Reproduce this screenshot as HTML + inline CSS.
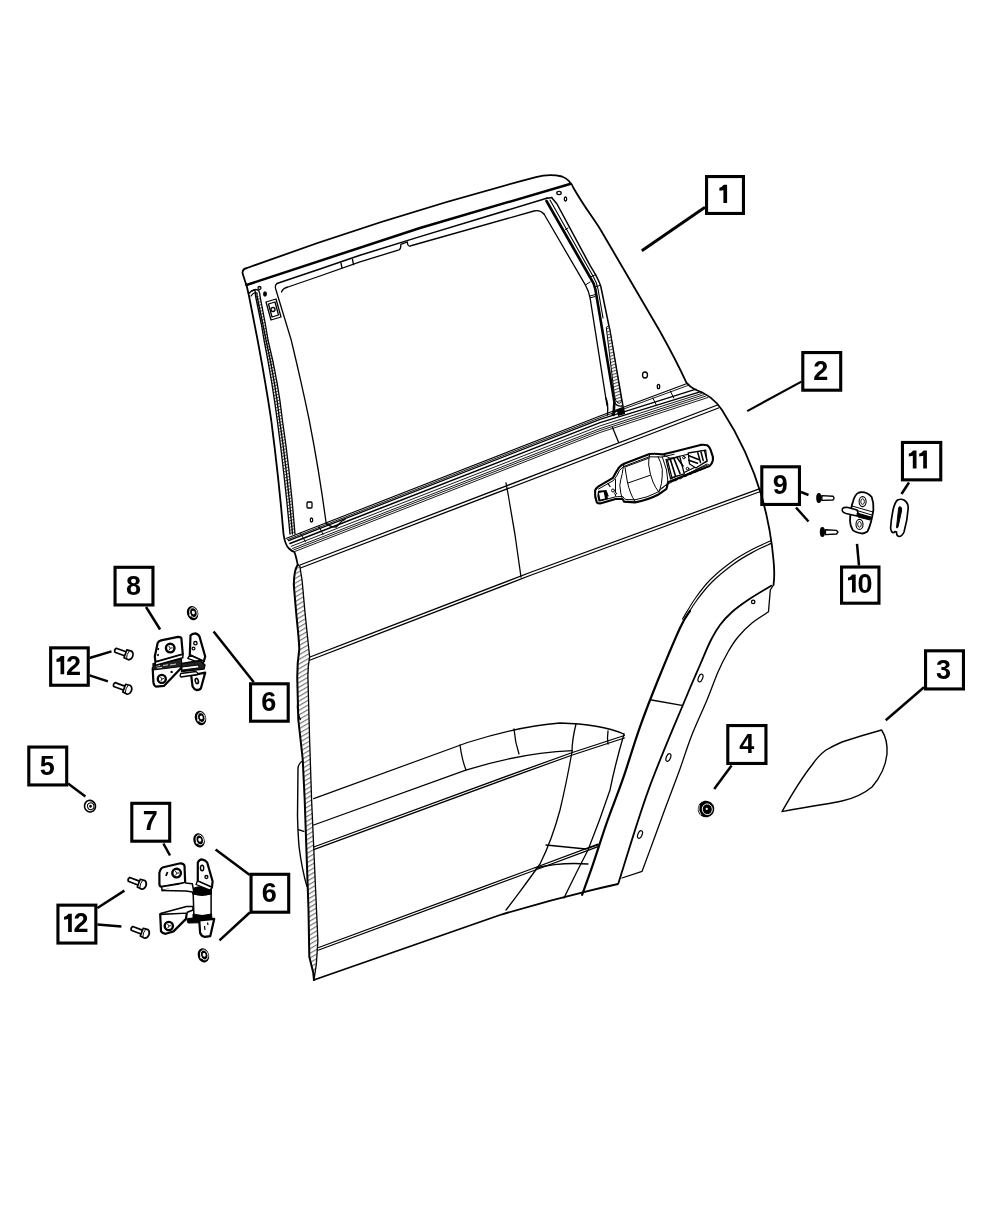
<!DOCTYPE html>
<html><head><meta charset="utf-8"><style>
html,body{margin:0;padding:0;background:#fff;}
body{width:1000px;height:1214px;overflow:hidden;}
svg{display:block;}
.lb{font-family:"Liberation Sans",sans-serif;font-weight:bold;font-size:27px;fill:#000;}
svg{will-change:transform;}
</style></head><body>
<svg width="1000" height="1214" viewBox="0 0 1000 1214">
<g fill="#fff" stroke="#000" stroke-width="3.1">
<rect x="706.55" y="176.55" width="36.90" height="36.90"/>
<rect x="802.80" y="352.55" width="37.90" height="37.65"/>
<rect x="925.55" y="650.80" width="37.90" height="38.15"/>
<rect x="727.80" y="725.55" width="38.15" height="37.90"/>
<rect x="28.80" y="747.05" width="37.90" height="37.90"/>
<rect x="250.55" y="683.80" width="37.65" height="37.40"/>
<rect x="251.05" y="874.30" width="37.65" height="37.90"/>
<rect x="131.80" y="803.30" width="37.90" height="37.90"/>
<rect x="115.05" y="567.30" width="37.90" height="37.65"/>
<rect x="761.80" y="466.80" width="37.65" height="37.65"/>
<rect x="841.55" y="567.05" width="37.40" height="36.15"/>
<rect x="902.45" y="442.45" width="38.30" height="37.40"/>
<rect x="50.65" y="647.85" width="37.60" height="37.40"/>
<rect x="57.95" y="905.15" width="37.90" height="37.90"/>
</g>
<g class="lb">
<text x="813.25" y="379.5">2</text>
<text x="936" y="678.5">3</text>
<text x="739.25" y="753">4</text>
<text x="39.75" y="774.75">5</text>
<text x="261.25" y="711">6</text>
<text x="261.75" y="901.75">6</text>
<text x="142.75" y="830.25">7</text>
<text x="126" y="594.5">8</text>
<text x="772.75" y="494">9</text>
<text x="857.6" y="593">0</text>
<text x="65.9" y="674.5">2</text>
<text x="73.4" y="931.9">2</text>
</g>
<path fill="#000" d="M723.8,184.8 L727.1,184.8 L727.1,203.0 L723.4,203.0 L723.4,190.2 L719.4,190.8 L719.4,187.8 Q721.9,187.4 723.8,184.8 Z M852.4,574.4 L855.7,574.4 L855.7,592.6 L852.0,592.6 L852.0,579.8 L848.0,580.4 L848.0,577.4 Q850.5,577.0 852.4,574.4 Z M913.2,450.4 L916.5,450.4 L916.5,468.6 L912.8,468.6 L912.8,455.8 L908.8,456.4 L908.8,453.4 Q911.3,453.0 913.2,450.4 Z M923.6,450.4 L926.9,450.4 L926.9,468.6 L923.2,468.6 L923.2,455.8 L919.2,456.4 L919.2,453.4 Q921.7,453.0 923.6,450.4 Z M60.9,656.0 L64.2,656.0 L64.2,674.2 L60.5,674.2 L60.5,661.4 L56.5,662.0 L56.5,659.0 Q59.0,658.6 60.9,656.0 Z M68.5,913.7 L71.8,913.7 L71.8,931.9 L68.1,931.9 L68.1,919.1 L64.1,919.7 L64.1,916.7 Q66.6,916.3 68.5,913.7 Z"/>
<g fill="none" stroke="#000" stroke-width="2.5" stroke-linecap="butt">
<path d="M705,207.3 L641.8,250.8" stroke-width="2.9"/>
<path d="M801.5,381.6 L747.2,411.1" stroke-width="2.1"/>
<path d="M924,687.3 L885.75,720.25"/>
<path d="M731.6,765.5 L714.2,789.1"/>
<path d="M68,783.5 L85.4,796.4"/>
<path d="M253.8,682.2 L213.6,631.5"/>
<path d="M215.6,849.5 L249.8,875"/>
<path d="M249.8,912.5 L219.5,940.4"/>
<path d="M163.4,843.5 L170,855.5"/>
<path d="M146,607 L160.1,629.5"/>
<path d="M89.6,658 L111.5,651.4"/>
<path d="M89.6,675.4 L107.9,681.4"/>
<path d="M97.4,908 L124.4,890.6"/>
<path d="M97.4,924.5 L121.4,926.6"/>
<path d="M801,492 L808.5,495"/>
<path d="M796,507.5 L808.5,521.5"/>
<path d="M857,543.8 L859,565.5"/>
<path d="M909,482.5 L901.5,494"/>
</g>
<!-- DOOR -->
<g id="door" fill="none" stroke="#000" stroke-width="1.3" stroke-linejoin="round" stroke-linecap="round">
<!-- top outer edge + rear frame edge + rear door edge -->
<path stroke-width="1.8" d="M246.5,285.5 L242.6,273.5 Q242,269 247,268 C345,232 445,201 536,177.2 Q549,173.5 562,176.5 Q570,179.5 573.5,188 C585,208 594,219 600.7,230 L659.2,330 Q676,360 686.4,382.6 Q690,387 695,389.5 Q712,395 722,410 Q748,450 762,497 Q771,530 773.5,560 Q775,575 773.5,585"/>
<!-- roof strip thick line -->
<path stroke-width="2.4" d="M246.5,285 L420,228 L570,184"/>
<!-- frame face top edge (opening top) -->
<path stroke-width="1.5" d="M276.9,283.5 L320,269 L360,255.2 L420,236.6 L547.5,198"/>
<!-- frame outer left edge -->
<path stroke-width="1.8" d="M246.5,285 L249,296 L257.6,340 Q266,385 271.2,420 Q279,480 283.5,534 Q285,545 289,548.5 Q291.5,551 294.4,552 Q296,556 297.7,564.7"/>
<!-- seal lines -->
<path fill="url(#hatch2)" stroke="none" d="M255.5,296 L261.5,325 L264,340 Q272,380 277.2,420 Q284,470 290,534 L295,534 Q290,470 282.4,420 Q278,380 268,340 L265.5,325 L260,296 Z"/>
<path d="M249.5,293 Q252,289.5 255,290.5 Q255.5,293 255.5,296 L261.5,325 L264,340 Q272,380 277.2,420 Q284,470 290,534"/>
<path d="M251,296 Q254,291.5 257,293 L257,296 L263,325 L266,340 Q275,380 279.6,420 Q287,470 292.5,534"/>
<path d="M252,291 Q256,288 259,291 Q260,294 260,296 L265.5,325 L268,340 Q278,380 282.4,420 Q290,470 295,534"/>
<!-- window opening left edge -->
<path d="M276.5,284 Q274.5,285.5 276,290 L291.2,340 Q302,385 309.2,420 Q319,470 326,522"/>
<!-- glass top inner edge with notches -->
<path d="M281.5,292 Q283,288 288,287 L320,276 L360,261.8 L399,249.8 Q401,249 400.8,244.4 L407.4,242 Q407.5,246.5 410,246 L534,211 Q540,209.5 544,214"/>
<path d="M341,263 L342,268 M352.5,259.5 L353.5,264.5"/>
<!-- channel top edge -->

<!-- rear window channel -->
<path d="M544,214 L585.3,284.8 Q589,291 590.2,298.7 L607,405.5"/>
<path stroke-width="2.6" d="M546.5,201 L590.5,278 Q594,283 595.3,289 L600.6,320 L614.4,402 L613.5,415"/>
<path stroke-width="1.1" d="M550,200 L593.5,277 Q597,283 598,289 L603,318"/>
<path stroke-width="1" d="M565.5,229.5 L568,228 M585.4,285 L590,282 M590.4,297.8 L595,296.5 M596,286.5 L600,285.5"/>
<path stroke-width="1.5" d="M552,198 L557,204 L590,265.4 Q598,278 600.7,286 L609.8,330 L623,406.4 L623.9,413.3"/>
<path d="M590.5,277 L596,274.5 M590,296 L595.5,294.5" stroke-width="1"/>
<path fill="url(#hatch2)" stroke-width="1" d="M606.5,327 Q608,325 609.5,328 L621.5,400 Q621,404 618,403 Q615,401 614.5,396 Z"/>
<path stroke-width="1.4" d="M605.7,397.8 Q608.5,402 607.5,415 M614.4,402 Q617,407 622,406 M612,415 Q616,409 623,410"/>
<path fill="#000" stroke="none" d="M617,410 L624,407 L625,414 L618,416 Z"/>
<path d="M546,198.5 L552,197.5"/>
<!-- small holes near top rear -->
<ellipse cx="559" cy="193" rx="2.2" ry="1.6"/>
<ellipse cx="565.5" cy="199" rx="1.2" ry="2"/>
<ellipse cx="645" cy="375" rx="2.5" ry="3"/>
<ellipse cx="658.5" cy="386.5" rx="1.2" ry="2.2"/>
<!-- B-pillar small features left -->
<ellipse cx="259.5" cy="288" rx="1.5" ry="1.5"/>
<ellipse cx="265" cy="294" rx="1.3" ry="2" fill="#000"/>
<path d="M266,302 L276,299 L281,317 L271,320 Z"/>
<path d="M268.5,304 L275,302 L278.5,315 L272,317 Z"/>
<circle cx="273" cy="309.5" r="2"/>
<rect x="307" y="502" width="5" height="6" rx="1"/>
<ellipse cx="311.5" cy="520" rx="1.2" ry="2"/>
<!-- belt / sill lines -->
<path stroke-width="1.1" d="M286.0,538.5 L600,416.0 L686.4,383.8"/>
<path stroke-width="0.9" d="M287.3,539.7 L600,417.7 L687.6,385.6"/>
<path stroke-width="1.3" d="M288.6,540.7 L600,419.3 L696,389.2"/>
<path stroke-width="1.5" d="M289.9,543.5 L600,422.6 L700.8,391.6"/>
<path stroke-width="0.9" d="M291.2,546.3 L600,425.9 L702,393.4"/>
<path stroke-width="0.9" d="M292.5,548.5 L600,428.6 L704.4,394.5"/>
<path stroke-width="0.9" d="M293.8,549.9 L600,430.5 L706,396"/>
<path stroke-width="0.9" d="M295.1,551.4 L600,432.5 L708,397.5"/>
<path d="M326,523 Q330,527 336,527.2 L339,524 Q341,521 345,519.5" stroke-width="1.3"/>
<path d="M300.6,533.6 L305.4,541.6 M319,526.4 L323,534.4 M652.8,398 L656.3,405 M670.3,391 L673.8,398" stroke-width="1"/>

<!-- upper crease (shoulder) -->
<path d="M300,565 L717.5,405"/>
<path d="M300.5,568 L718.5,408"/>
<!-- panel split upper -->
<path d="M612.5,427.5 L618.7,442.5"/>
<path d="M506,483 Q515,530 521,577"/>
<!-- middle crease -->
<path d="M308.7,657.5 L530,572.5 L760,488.7"/>
<path d="M309,660.5 L530,575.5 L760.5,491.5"/>
<!-- front edge band -->
<defs><pattern id="hatch2" width="3" height="3" patternUnits="userSpaceOnUse" patternTransform="rotate(-20)"><rect width="3" height="3" fill="#fff" stroke="none"/><rect width="3" height="1.1" fill="#555" stroke="none"/></pattern><pattern id="hatch" width="4" height="4" patternUnits="userSpaceOnUse" patternTransform="rotate(-30)"><rect width="4" height="4" fill="#fff" stroke="none"/><rect width="4" height="1.2" fill="#777" stroke="none"/></pattern></defs>
<path fill="url(#hatch)" stroke="none" d="M297.7,564.7 Q294,570 293.8,584.7 Q295,600 296.8,619.3 Q299,640 299.3,649 L297.3,680 L298.3,719.5 L302.7,759 L304.7,800 L308.5,909.7 L309.3,956.7 L313.2,972.4 L314,980 L316.3,964.6 L317.9,941 L311.6,800 L309.6,739.3 L308,680 L309.6,656.8 L304.7,609.4 L302.2,581.2 L299.8,566 Z"/>
<path stroke-width="2" d="M297.7,564.7 Q294,570 293.8,584.7 Q295,600 296.8,619.3 Q299,640 299.3,649 Q297,665 297.3,680 L298.3,719.5 L302.7,759 L304.7,800 L308.5,909.7 L309.3,956.7 L313.2,972.4 L314,980"/>
<path stroke-width="1.3" d="M297.7,564.7 L299.8,566 L302.2,581.2 L304.7,609.4 L309.6,656.8 Q307.5,668 308,680 L309.6,739.3 L311.6,800 L317.9,941 L316.3,964.6 L314,980"/>

<!-- hinge bracket on edge -->
<path stroke-width="1.4" d="M302.7,761 Q298.8,763 298,768 L297.5,815.7 Q298,835 299.1,847 Q302,870 306.9,886.2 M299.1,829.8 L303.8,831.3 M297.8,701.7 Q296.5,712 300.3,719.5"/>
<!-- bottom edge -->
<path stroke-width="1.8" d="M313.7,980 L500,915 Q560,897 618,884"/>
<!-- rocker line -->
<path d="M318.7,950 L530,872 L586,851.2 L598,846.7"/>
<path d="M318.7,947.5 L530,869.5 L586,848.7 L598,844.2"/>
<!-- lower-mid crease -->
<path d="M313.7,849.6 L525.6,771.8 L572.4,755 L624.4,738"/>
<path d="M313.7,847 L525.6,769.3 L572.4,752.5 L624.4,735.5"/>
<!-- swoosh lines -->
<path d="M313.7,798.7 L467.5,742.5 Q520,726 560,723 Q600,724 624,734"/>
<path d="M313.7,825 L465.8,770.2 Q520,753 572.4,750.7"/>
<path d="M460,745 Q462,760 466,770"/>
<path d="M514,729 Q515,742 519,754"/>
<path d="M576,724 Q572,740 572,752 Q566,785 560,810 Q552,840 540,864 Q520,892 506,910"/>
<path d="M624,734 Q615,765 610,790 Q600,820 588,850 Q575,875 564,898"/>
<path d="M608,731 Q607,738 608,744"/>

<path d="M546,845 L586,849 L598,845"/>
<path d="M536,868 Q560,862 588,864"/>
<!-- wheel arch -->
<path stroke-width="2.2" d="M582.1,894.8 C583.9,889.8 588.6,876.9 592.8,864.8 C596.9,852.7 602.0,836.3 607.0,822.0 C612.0,807.7 617.3,795.1 622.8,779.2 C628.3,763.3 634.1,743.3 640.0,726.8 C645.9,710.3 651.3,696.5 658.0,680.0 C664.7,663.5 674.7,639.5 680.0,628.0 C685.3,616.5 688.3,613.8 690.0,611.0"/>
<path stroke-width="1.2" d="M684.0,620.0 C686.2,616.7 692.3,606.3 697.0,600.0 C701.7,593.7 705.7,588.2 712.0,582.0 C718.3,575.8 727.8,568.2 735.0,563.0 C742.2,557.8 749.0,554.3 755.0,551.0 C761.0,547.7 768.5,544.7 771.2,543.4"/>
<path stroke-width="1.1" d="M682.5,619.0 C684.7,615.5 690.8,604.6 695.5,598.0 C700.2,591.4 704.2,585.8 710.5,579.5 C716.8,573.2 726.2,565.7 733.5,560.5 C740.8,555.3 747.8,551.8 754.0,548.5 C760.2,545.2 768.2,542.1 771.0,540.8"/>
<!-- inner flange -->
<path stroke-width="1.8" d="M618.5,883.0 C623.5,867.5 637.4,820.4 648.5,789.9 C659.6,759.4 676.4,720.8 685.0,700.0 C693.6,679.2 695.8,674.7 700.0,665.0 C704.2,655.3 706.7,648.7 710.0,642.0 C713.3,635.3 716.3,630.0 720.0,625.0 C723.7,620.0 727.3,616.2 732.0,612.0 C736.7,607.8 741.5,604.4 748.0,600.0 C754.5,595.6 767.3,588.1 771.2,585.7"/>
<path d="M622,878 L642.1,871.3 C644.1,865.9 650.1,849.7 654.0,839.0 C657.9,828.3 661.4,818.5 665.7,807.0 C670.0,795.5 675.3,781.8 679.6,770.0 C683.9,758.2 686.7,748.1 691.3,736.4 C695.9,724.7 702.5,710.7 707.0,700.0 C711.5,689.3 714.5,680.0 718.0,672.0 C721.5,664.0 724.7,657.8 728.0,652.0 C731.3,646.2 734.0,641.8 738.0,637.0 C742.0,632.2 747.3,626.9 752.0,623.0 C756.7,619.1 763.2,615.4 766.0,613.5 C768.8,611.6 768.1,612.1 768.5,611.8 L770.3,590 L773.5,585"/>
<path d="M651.5,700 L682,705.4"/>
<ellipse cx="668.4" cy="757.5" rx="2.1" ry="4" transform="rotate(22 668.4 757.5)" stroke-width="1.2"/>
<ellipse cx="640" cy="834.5" rx="2.1" ry="4" transform="rotate(22 640 834.5)" stroke-width="1.2"/>
<ellipse cx="700.5" cy="678" rx="2.1" ry="4" transform="rotate(22 700.5 678)" stroke-width="1.2"/>
<circle cx="753.2" cy="601.9" r="1.7"/>
</g>
<!-- PARTS -->
<g id="parts" fill="#fff" stroke="#000" stroke-width="1.8" stroke-linejoin="round">
<!-- patch 3 -->
<path fill="none" stroke-width="1.4" d="M782,811.6 Q800,780 812,765 Q818,756 826,750 Q835,745 842,742 Q860,736 881.6,730 Q888,740 887,754 Q885,772 872,787 Q860,797 842,801 Q832,803 826,804 Q800,808 782,811.6 Z"/>
<!-- nut 4 -->
<g transform="translate(706,809) rotate(-10)">
<ellipse cx="0" cy="0" rx="8.3" ry="8.3" fill="#000" stroke="none"/>
<ellipse cx="1.2" cy="0.5" rx="5" ry="5.4" fill="none" stroke="#fff" stroke-width="0.9"/>
<circle cx="0.8" cy="0" r="1.1" fill="#fff" stroke="none"/>
<path d="M-6,-5 Q-8.5,0 -6,5" fill="none" stroke="#fff" stroke-width="0.8"/>
</g>
<!-- nut 5 -->
<g transform="translate(90,806.2) rotate(-15)">
<ellipse cx="0" cy="0" rx="5.5" ry="5.8" fill="#fff" stroke="#000" stroke-width="1.6"/>
<ellipse cx="0.7" cy="0.2" rx="3.2" ry="3.4" fill="#fff" stroke="#000" stroke-width="1"/>
<circle cx="0.5" cy="0.2" r="1.4" fill="#000" stroke="none"/>
</g>
<!-- nuts 6 -->
<g transform="translate(192.6,613.1) rotate(-18)"><ellipse rx="5.6" ry="7.3" fill="#000" stroke="none"/><ellipse cx="0.9" cy="-0.2" rx="3.6" ry="5" fill="none" stroke="#fff" stroke-width="0.9"/><ellipse cx="0.9" cy="-0.3" rx="1.5" ry="1.9" fill="#fff" stroke="none"/><ellipse cx="-3" cy="1.3" rx="0.8" ry="1.3" fill="#fff" stroke="none"/></g><g transform="translate(200.5,718) rotate(-18)"><ellipse rx="5.6" ry="7.3" fill="#000" stroke="none"/><ellipse cx="0.9" cy="-0.2" rx="3.6" ry="5" fill="none" stroke="#fff" stroke-width="0.9"/><ellipse cx="0.9" cy="-0.3" rx="1.5" ry="1.9" fill="#fff" stroke="none"/><ellipse cx="-3" cy="1.3" rx="0.8" ry="1.3" fill="#fff" stroke="none"/></g><g transform="translate(199,840.4) rotate(-18)"><ellipse rx="5.6" ry="7.3" fill="#000" stroke="none"/><ellipse cx="0.9" cy="-0.2" rx="3.6" ry="5" fill="none" stroke="#fff" stroke-width="0.9"/><ellipse cx="0.9" cy="-0.3" rx="1.5" ry="1.9" fill="#fff" stroke="none"/><ellipse cx="-3" cy="1.3" rx="0.8" ry="1.3" fill="#fff" stroke="none"/></g><g transform="translate(203.4,955.4) rotate(-18)"><ellipse rx="5.6" ry="7.3" fill="#000" stroke="none"/><ellipse cx="0.9" cy="-0.2" rx="3.6" ry="5" fill="none" stroke="#fff" stroke-width="0.9"/><ellipse cx="0.9" cy="-0.3" rx="1.5" ry="1.9" fill="#fff" stroke="none"/><ellipse cx="-3" cy="1.3" rx="0.8" ry="1.3" fill="#fff" stroke="none"/></g>
<!-- bolts 12 -->
<g transform="translate(115.6,650.2) rotate(20) scale(1.1)"><path d="M0,-1.9 L10,-1.9 L10,1.9 L0,1.9 Q-1.6,0 0,-1.9 Z" stroke-width="1.5"/><path d="M9.5,-3.8 L14,-4.2 Q16.5,-3 16.5,0 Q16.5,3 14,4.2 L9.5,3.8 Z" stroke-width="1.5"/><path d="M12,-3.9 Q10.5,0 12,3.9" fill="none" stroke-width="0.8"/></g><g transform="translate(114.4,684.6) rotate(20) scale(1.1)"><path d="M0,-1.9 L10,-1.9 L10,1.9 L0,1.9 Q-1.6,0 0,-1.9 Z" stroke-width="1.5"/><path d="M9.5,-3.8 L14,-4.2 Q16.5,-3 16.5,0 Q16.5,3 14,4.2 L9.5,3.8 Z" stroke-width="1.5"/><path d="M12,-3.9 Q10.5,0 12,3.9" fill="none" stroke-width="0.8"/></g><g transform="translate(129,879.4) rotate(21) scale(1.1)"><path d="M0,-1.9 L10,-1.9 L10,1.9 L0,1.9 Q-1.6,0 0,-1.9 Z" stroke-width="1.5"/><path d="M9.5,-3.8 L14,-4.2 Q16.5,-3 16.5,0 Q16.5,3 14,4.2 L9.5,3.8 Z" stroke-width="1.5"/><path d="M12,-3.9 Q10.5,0 12,3.9" fill="none" stroke-width="0.8"/></g><g transform="translate(132,928.4) rotate(21) scale(1.1)"><path d="M0,-1.9 L10,-1.9 L10,1.9 L0,1.9 Q-1.6,0 0,-1.9 Z" stroke-width="1.5"/><path d="M9.5,-3.8 L14,-4.2 Q16.5,-3 16.5,0 Q16.5,3 14,4.2 L9.5,3.8 Z" stroke-width="1.5"/><path d="M12,-3.9 Q10.5,0 12,3.9" fill="none" stroke-width="0.8"/></g>
<!-- hinge 8 -->
<g stroke-width="2.2" stroke-linejoin="round">
<path d="M191.2,675.4 L192.6,686.6 Q194,689.5 196.8,690.1 Q200,690 201,688 L205.2,672.6 Z"/>
<ellipse cx="196.8" cy="681" rx="1.5" ry="2.6" stroke-width="1.6" transform="rotate(-15 196.8 681)"/>
<path d="M190.5,635.5 Q192,633.6 195.4,633.4 Q199,634.5 199.6,636.9 L205.2,656.5 L203.8,661.4 L189.8,655.1 Z"/>
<circle cx="195.4" cy="643.2" r="1.7" stroke-width="1.3"/><circle cx="193.5" cy="648.6" r="1.4" stroke-width="1.2"/>
<path d="M189.8,655.1 L203.8,661.4 L202.5,663.8 L187.8,658.4 Z" stroke-width="1.4"/>
<path d="M152.7,668.4 L153.4,682.4 Q154,686 156.2,686.6 L163.9,685.9 L181.4,667.7 L180.7,664.9 Z"/>
<circle cx="161.8" cy="678.9" r="4" stroke-width="2.4"/>
<path d="M160.5,677 L162,679 L160.8,681 M162,679 L164,678.5" stroke-width="0.9" fill="none"/>
<circle cx="171.6" cy="671.9" r="1.2" fill="#000" stroke="none"/>
<path d="M153,663.5 L181.5,659 L181.5,666.5 L153,670 Z" fill="#222" stroke-width="1.2"/>
<path d="M156,666 L160,665.4 M163,665.5 L168,664.8 M170,665 L176,664 M157,668 L162,667.4" stroke="#fff" stroke-width="0.8"/>
<path d="M154.8,656.5 L157.6,643.2 Q158.5,641 161.1,640.4 L177.9,636.9 Q181,637 181.4,638.3 L182.8,654.4 L155.5,662.1 Z"/>
<path d="M155.5,662.1 L182.8,654.4 L182.8,657.8 L155,665.5 Z" stroke-width="1.5"/>
<circle cx="170.2" cy="648.1" r="4.3" stroke-width="2.4"/>
<path d="M168.8,646 L170.3,648.2 L169,650.4 M170.3,648.2 L172.6,647.8" stroke-width="0.9" fill="none"/>
<path d="M158.5,648 L158,650 M158.3,654 L157.8,656" stroke-width="1.6"/>
<path d="M181.5,663.5 L200,660.5 L205,665 L204,669 L181.5,671.5 Z" fill="#222" stroke-width="1.3"/>
<path d="M182,667 L198.5,665 L199,667.8 L182,670 Z" stroke-width="1"/>
<path d="M180.7,673.5 L196,671.5 Q198,672.5 197.5,674.5 L181,677 Q179.5,675.5 180.7,673.5 Z" stroke-width="1.3"/>
</g>
<!-- hinge 7 -->
<g stroke-width="2.2" stroke-linejoin="round">
<path d="M193.1,890.7 L211.1,890.7 L211.1,915.8 L193.9,915.8 Z" stroke-width="1.5"/>
<path d="M192.5,888.5 Q202,884.5 211.5,888.5 L211.5,894 Q202,897 192.5,894 Z" fill="#000" stroke-width="1"/>
<path d="M193,914 Q202,917 211.5,914 L212,918.5 Q202,922.5 193,918.5 Z" fill="#000" stroke-width="1"/>
<path d="M160.2,914.2 L161,931.4 Q162.5,933.6 165.7,933.8 L173.5,931.4 L186,918.9 L186.8,912.6 Z"/>
<path d="M160.5,913.5 L186.5,906.5 L193,906.5 L193,910 L186.8,912.6" stroke-width="1.6"/>
<circle cx="168.8" cy="926" r="4.1" stroke-width="2.4"/>
<path d="M167.5,924 L169,926 L167.8,928 M169,926 L171,925.6" stroke-width="0.9" fill="none"/>
<path d="M187.6,918.5 L199,917.5 L200.5,920 L199.5,922.8 L188,923 Q186.5,920.8 187.6,918.5 Z" fill="#000" stroke-width="1"/>
<path d="M199.3,920.5 L200.1,933 Q201.5,936.5 204.8,936.9 L210.3,936.1 L214.2,918.9 Z"/>
<path d="M204.5,926 L205,930 M207.5,922.5 L208,925" stroke-width="1.2"/>
<path d="M197.8,862.5 Q199.5,859.5 201.7,859.4 Q205.5,860 207.2,862.5 L212.6,881.3 L211.9,887.6 L197.8,881.3 Z"/>
<ellipse cx="202.1" cy="868" rx="1.6" ry="2.8" stroke-width="1.4"/><circle cx="206.4" cy="877" r="1.5" stroke-width="1.3"/>
<path d="M197.5,881 L212,887.5 L210,890 L196,884.5 Z" stroke-width="1.3"/>
<path d="M159.4,872.7 Q160.5,868 163.3,867.2 L180.5,863.3 Q184,863.5 184.5,865.7 L185.2,882.9 L161.7,886.8 Q159.4,886.5 159.4,884 Z"/>
<path d="M161.7,886.8 L185.2,882.9 L185.2,886 L162,890.5 Z" stroke-width="1.5"/>
<path d="M185.2,882.9 L192.3,883.7 L193.9,892.3 L186,891 L162,890.5" stroke-width="1.5"/>
<circle cx="176.6" cy="873.1" r="4.3" stroke-width="2.4"/>
<path d="M175.3,871 L176.8,873.2 L175.5,875.4 M176.8,873.2 L179,872.8" stroke-width="0.9" fill="none"/>
<path d="M166,876 L167.5,872" stroke-width="1.8"/>
</g>
<!-- screws 9 -->
<g>
<path d="M821.8,495.6 L833,496.2 Q835,498 833,500 L821.8,500.4 Z" stroke-width="1.4"/>
<ellipse cx="818.8" cy="498" rx="2.6" ry="5" fill="#000" stroke="none"/>
<path d="M825.4,529.8 L836.5,530.4 L838,532 L836.5,534 L825.4,534.6 Z" stroke-width="1.4"/>
<ellipse cx="822.4" cy="532" rx="2.6" ry="5" fill="#000" stroke="none"/>
</g>
<!-- striker 10 -->
<g>
<path d="M850,520.8 Q850.5,508 853,501.6 Q855,494 859,492.5 Q866,491 871.6,496.8 Q874,503 873.4,510 Q871,525 867.4,531.6 Q864,534 861.4,533.4 Q855,532 853,530.4 Q850,526 850,520.8 Z" stroke-width="1.8"/>
<ellipse cx="862.6" cy="501.6" rx="3.5" ry="5" stroke-width="1.1"/>
<ellipse cx="862.6" cy="501.6" rx="1.8" ry="2.8" stroke-width="0.9"/>
<ellipse cx="859.5" cy="524.4" rx="3.5" ry="5" stroke-width="1.1"/>
<ellipse cx="859.5" cy="524.4" rx="1.8" ry="2.8" stroke-width="0.9"/>
<path d="M852,506 L873,512 M852,509 L872,515" stroke-width="1"/>
<path d="M842.5,508.5 Q844,507 848,507.5 L857,510 Q859,513 857,516 L846,513.5 Q841,512 842.5,508.5 Z" stroke-width="1.6"/>
<path d="M857,513 L871,517 L870,520 L858,517 Z" fill="#000" stroke-width="1"/>
</g>
<!-- shim 11 -->
<g>
<path d="M890.6,528 Q891,520 893,510 Q895,502 897.5,500 Q901,498.5 904,500 Q908.5,503 908.2,508 Q907.5,520 904,532 Q902,536.5 899,536.5 Q896.5,536 896.5,532 Q895,531 894,532.5 Q891,533 890.6,528 Z" stroke-width="1.7"/>
<path d="M900,506.5 Q902,507 901.5,511 L898,527 Q897,529 896.5,527.5 L898.5,509 Q898.8,506.5 900,506.5 Z" fill="#000" stroke-width="1"/>
</g>
</g>
<g fill="#fff" stroke="#000" stroke-linejoin="round" stroke-linecap="round">
<path stroke-width="2.1" d="M595.1,490.5 Q596,488 598.5,486.3 L613,477.8 Q616,472 618.9,467.6 Q621,465 624,463.7 L649.5,454 Q656,453.5 662.3,454.4 L675,451.4 L700.5,444.9 Q704,444.5 707,445.2 Q710,447 711.6,453 Q713.5,457 712.9,460.2 Q712,464 709.6,466 L668,482.3 Q667,487 666.5,488.8 Q662,492 658,494.8 Q648,500 635,502.4 L624,501.6 Q623,499 622.3,499 L615.5,499 L601,503.3 Q598,503.5 596.8,502.4 Q594.5,497 595.1,490.5 Z"/>
<path stroke-width="1" fill="none" d="M598.5,489 L613.5,480.5 Q617,476 619.5,470.5 Q622,467 625,466 L649,456.8 L662,457 L674,454.3 M600,501 L615.5,496.8 L622.8,496.5 Q624,499 626,499.5 L635,499.8 Q648,497.5 657,492.5 Q662,489 665,485.5 L707,464 M662.3,454.4 Q666,456 670,458.2 L675,457.8"/>
<path stroke-width="1" fill="none" d="M624,464.2 Q622.5,470 622.3,473.5 Q620.5,480 619.8,485.4 Q620.5,494 622.3,499 M624.9,466.7 Q626,474 627.4,482 Q630,494 635,501.6 M615.5,479.5 L615.5,496"/>
<path stroke-width="1" fill="none" d="M625.7,466.7 L648.7,458.2 M628.3,482.9 L650.4,475.2"/>
<path stroke-width="1" fill="none" d="M649.5,455.2 Q648.5,460 648.7,465 Q650,475 653,482 Q655.5,488 658.9,492.2 M658,456.5 Q661,462 662.3,469.3 Q662.5,477 661.4,483.7 Q660,489 658.9,492.2"/>
<path stroke-width="1" fill="none" d="M662.3,457 L666.5,470 L668,482.3 M660.6,488.8 L668.2,483.7"/>
<path stroke-width="1.2" d="M666,459.5 L705.7,450 L707,461.5 L670.6,479 Z"/>
<path stroke-width="1.3" d="M667.4,460.2 L679.7,456.3 L684.3,473.8 L671.9,477.7 Z"/>
<path stroke-width="1.6" fill="none" d="M670.5,460 L675.5,476 M674,458.6 L680,473.5 M677,457.6 L683,466"/>
<circle cx="683.9" cy="457.6" r="1.3" stroke-width="1"/><circle cx="687.5" cy="468.6" r="1.3" stroke-width="1"/>
<path stroke-width="1.3" d="M688.2,453 L704.4,450.4 L707,460.8 L696,468 L689.5,464 Z"/>
<path stroke-width="1.5" fill="none" d="M689,455.8 L698.5,459.5 M688.8,460.2 L697.5,463.3 M701,452 L703.2,460.5 M697.8,452.8 L700.5,462.5"/>
<path stroke-width="0.9" fill="none" d="M672,480.5 L708.5,464.5 M675,481 L677,480 M680,479 L682,478 M685,476.8 L687,475.8 M690,474.6 L692,473.6 M695,472.4 L697,471.4 M700,470.2 L702,469.2"/>
<path fill="#000" stroke="none" d="M598,490.8 L606.5,490 L608,499 L598.5,501.5 Q596.5,496 598,490.8 Z"/>
<rect x="599.6" y="492.5" width="4.8" height="6.5" fill="#fff" stroke="none" transform="rotate(-12 602 495.7)"/>
<circle cx="613" cy="490.5" r="1.5" stroke-width="1"/><circle cx="615.5" cy="493.5" r="1" stroke-width="0.9"/>
<path stroke-width="1.3" fill="none" d="M608,483.5 L610,486.5 M606.5,492 L608,496"/>
</g>

</svg>
</body></html>
